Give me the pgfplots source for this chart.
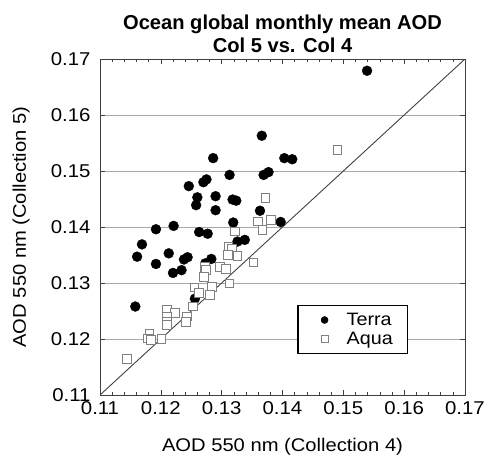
\documentclass[border=0pt]{standalone}
\usepackage{pgfplots}
\pgfplotsset{compat=1.18}
\usepackage{fontspec}
\setmainfont{Liberation Sans}
\newfontfamily\wide{Liberation Sans}[FakeStretch=1.1]
\definecolor{aquaedge}{HTML}{808080}
\definecolor{gridc}{HTML}{A8A8A8}
\definecolor{framec}{HTML}{404040}
\begin{document}
\begin{tikzpicture}
\useasboundingbox (-100bp,-60bp) rectangle (386bp,395bp);
\begin{axis}[
  at={(0,0)}, anchor=south west,
  width=365bp, height=336bp, scale only axis,
  xmin=0.11, xmax=0.17, ymin=0.11, ymax=0.17,
  xtick={0.11,0.12,0.13,0.14,0.15,0.16,0.17},
  ytick={0.11,0.12,0.13,0.14,0.15,0.16,0.17},
  minor x tick num=4, minor y tick num=0,
  scaled ticks=false,
  tick align=inside,
  major tick length=5bp, minor tick length=3bp,
  tick style={framec, line width=0.6pt},
  /pgf/number format/assume math mode=true,
  xticklabel style={/pgf/number format/fixed, /pgf/number format/fixed zerofill, /pgf/number format/precision=2, yshift=-3bp},
  yticklabel style={/pgf/number format/fixed, /pgf/number format/fixed zerofill, /pgf/number format/precision=2, xshift=-6bp},
  ticklabel style={font=\wide\fontsize{18.6}{22}\selectfont},
  ymajorgrids, grid style={gridc, line width=0.7pt},
  axis line style={framec, line width=0.8pt},
  title={Ocean global monthly mean AOD\\Col 5 vs. Col 4},
  title style={font=\bfseries\fontsize{20.2}{22.6}\selectfont, align=center, yshift=-3bp},
  xlabel={AOD 550 nm (Collection 4)},
  ylabel={AOD 550 nm (Collection 5)},
  xlabel style={at={(axis description cs:0.5,-0.1548)}, anchor=center},
  ylabel style={at={(axis description cs:-0.2164,0.5)}, anchor=center},
  label style={font=\wide\fontsize{18.4}{22}\selectfont},
  legend image code/.code={\path (0bp,0bp) (22bp,0bp); \draw[#1, mark size=3.6bp] plot coordinates {(18bp,0bp)};},
  legend style={at={(0.5405,0.268)}, anchor=north west, draw=black, line width=1.3pt,
    font=\wide\fontsize{18}{22}\selectfont, inner xsep=8bp, inner ysep=6bp,
    nodes={inner ysep=1.5bp, inner xsep=6.5bp},
    /tikz/every odd column/.append style={column sep=11bp},
    row sep=2bp},
  legend cell align=left,
]
\addplot[color=black!75, line width=0.9pt, forget plot] coordinates {(0.11,0.11) (0.17,0.17)};
\addplot[only marks, mark=*, mark size=5bp, mark options={fill=black, draw=black, line width=0.3pt}] coordinates {
(0.1539,0.1679) (0.1366,0.1563) (0.1286,0.1523) (0.1403,0.1523) (0.1416,0.1521)
(0.1313,0.1493) (0.1369,0.1493) (0.1377,0.1498) (0.1246,0.1473) (0.1270,0.1480)
(0.1275,0.1485) (0.1260,0.1453) (0.1290,0.1455) (0.1318,0.1449) (0.1324,0.1447)
(0.1258,0.1439) (0.1290,0.1430) (0.1363,0.1429) (0.1319,0.1408) (0.1397,0.1409)
(0.1192,0.1396) (0.1221,0.1402) (0.1263,0.1391) (0.1277,0.1388) (0.1169,0.1369)
(0.1161,0.1347) (0.1213,0.1353) (0.1192,0.1334) (0.1238,0.1342) (0.1244,0.1346)
(0.1220,0.1318) (0.1234,0.1323) (0.1326,0.1374) (0.1338,0.1377) (0.1273,0.1335)
(0.1283,0.1343) (0.1256,0.1272) (0.1158,0.1258)
};
\addlegendentry{Terra}
\addplot[only marks, mark=square*, mark size=4.3bp, mark options={fill=white, draw=aquaedge, line width=0.9pt}] coordinates {
(0.1490,0.1538) (0.1372,0.1452) (0.1360,0.1410) (0.1381,0.1413) (0.1367,0.1395)
(0.1322,0.1392) (0.1311,0.1365) (0.1317,0.1361) (0.1310,0.1350) (0.1326,0.1348)
(0.1352,0.1337) (0.1297,0.1329) (0.1307,0.1325) (0.1273,0.1329) (0.1274,0.1323)
(0.1271,0.1311) (0.1313,0.1299) (0.1255,0.1292) (0.1263,0.1282) (0.1284,0.1293)
(0.1281,0.1279) (0.1253,0.1258) (0.1243,0.1240) (0.1241,0.1230) (0.1210,0.1252)
(0.1223,0.1246) (0.1210,0.1240) (0.1210,0.1231) (0.1210,0.1225) (0.1181,0.1210)
(0.1179,0.1201) (0.1184,0.1198) (0.1201,0.1200) (0.1144,0.1164)
};
\addlegendentry{Aqua}
\end{axis}
\end{tikzpicture}
\end{document}
